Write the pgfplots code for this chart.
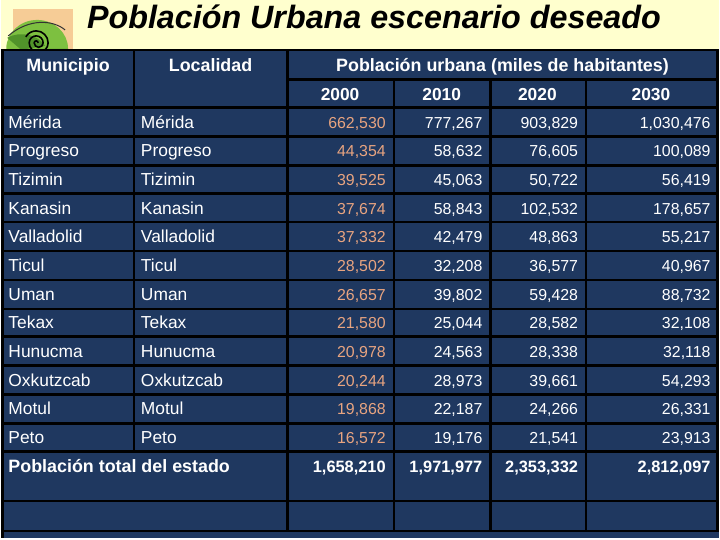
\documentclass[border=0pt]{standalone}
\usepackage{pgfplots}
\usepackage{pgfplotstable}
\pgfplotsset{compat=1.18}
\usepackage{fontspec}
\setmainfont{Liberation Sans}
\definecolor{navy}{RGB}{31,56,96}
\definecolor{salmon}{RGB}{232,164,128}
\definecolor{cream}{RGB}{255,255,206}
\definecolor{tanbg}{RGB}{246,204,150}
\definecolor{leaf}{RGB}{125,192,64}
\definecolor{leafdark}{RGB}{62,128,32}

\pgfplotstableread{
row name v2000 v2010 v2020 v2030
1 Mérida 662530 777267 903829 1030476
2 Progreso 44354 58632 76605 100089
3 Tizimin 39525 45063 50722 56419
4 Kanasin 37674 58843 102532 178657
5 Valladolid 37332 42479 48863 55217
6 Ticul 28502 32208 36577 40967
7 Uman 26657 39802 59428 88732
8 Tekax 21580 25044 28582 32108
9 Hunucma 20978 24563 28338 32118
10 Oxkutzcab 20244 28973 39661 54293
11 Motul 19868 22187 24266 26331
12 Peto 16572 19176 21541 23913
}\datos

\pgfplotstableread{
col xr total
1 386 1658210
2 483 1971977
3 579 2353332
4 712 2812097
}\totales

\newcommand{\datafont}{\fontsize{16}{18}\selectfont}
\newcommand{\namefont}{\fontsize{17.5}{20}\selectfont}
\newcommand{\headfont}{\fontsize{18}{21}\selectfont\bfseries}
\newcommand{\yearfont}{\fontsize{17.5}{20}\selectfont\bfseries}
\newcommand{\totfont}{\fontsize{16.5}{19}\selectfont\bfseries}

\pgfplotsset{
  cell/.style={only marks, mark=none, nodes near coords, point meta=explicit symbolic,
    every node near coord/.append style={inner sep=0pt, anchor=base west, text=white, font=\namefont}},
  numcell/.style={only marks, mark=none, nodes near coords={\pgfmathprintnumber{\pgfplotspointmeta}}, point meta=explicit symbolic,
    every node near coord/.append style={inner sep=0pt, anchor=base east, text=#1, font=\datafont}},
}

\begin{document}
\begin{tikzpicture}
\begin{axis}[
  width=720bp, height=540bp, scale only axis,
  xmin=0, xmax=720, ymin=0, ymax=540, y dir=reverse,
  hide axis, clip=false, at={(0,0)}, anchor=south west,
  /pgf/number format/.cd, fixed, precision=0, 1000 sep={,}, assume math mode=true,
]
% backgrounds
\fill[cream] (axis cs:0,0) rectangle (axis cs:720,50);
\fill[navy] (axis cs:0,50) rectangle (axis cs:720,540);
% logo
\fill[tanbg] (axis cs:12,9) rectangle (axis cs:72,50);
\begin{scope}
\clip (axis cs:0,0) rectangle (axis cs:720,49);
\fill[leaf] (axis cs:36,49) ellipse[x radius=31bp, y radius=29bp];
\fill[leafdark] (axis cs:36,49) -- (axis cs:67,49) arc[start angle=0, end angle=-110, x radius=31bp, y radius=29bp] -- cycle;
\fill[leafdark!70!leaf] (axis cs:6,38) .. controls (axis cs:20,30) and (axis cs:38,36) .. (axis cs:44,46) -- (axis cs:20,50) -- cycle;
\path (axis cs:35,43) coordinate (sc);
\draw[black, line width=1.6bp] ([xshift=2bp]sc) arc[start angle=0,end angle=180,radius=2bp]
  arc[start angle=180,end angle=360,radius=4.5bp]
  arc[start angle=0,end angle=180,radius=7bp]
  arc[start angle=180,end angle=360,radius=9.5bp]
  arc[start angle=0,end angle=150,radius=12bp];
\draw[black!80, line width=1bp] (axis cs:7,36) .. controls (axis cs:28,18) and (axis cs:52,20) .. (axis cs:64,30);
\end{scope}
% title
\node[inner sep=0pt, anchor=base, font=\fontsize{32.5}{38}\selectfont\bfseries\itshape, text=black] at (axis cs:374,29) {Población Urbana escenario deseado};
% headers
\node[inner sep=0pt, font=\headfont, text=white, anchor=base] at (axis cs:67,72) {Municipio};
\node[inner sep=0pt, font=\headfont, text=white, anchor=base] at (axis cs:210,72) {Localidad};
\node[inner sep=0pt, font=\headfont, text=white, anchor=base] at (axis cs:503,72) {Población urbana (miles de habitantes)};
\node[inner sep=0pt, font=\yearfont, text=white, anchor=base] at (axis cs:340,101) {2000};
\node[inner sep=0pt, font=\yearfont, text=white, anchor=base] at (axis cs:442,101) {2010};
\node[inner sep=0pt, font=\yearfont, text=white, anchor=base] at (axis cs:538,101) {2020};
\node[inner sep=0pt, font=\yearfont, text=white, anchor=base] at (axis cs:652,101) {2030};
% names
\addplot[cell] table[x expr=7, y expr=128.8+28.75*(\thisrow{row}-1), meta=name] {\datos};
\addplot[cell] table[x expr=140, y expr=128.8+28.75*(\thisrow{row}-1), meta=name] {\datos};
% values
\addplot[numcell=salmon] table[x expr=386, y expr=128.8+28.75*(\thisrow{row}-1), meta=v2000] {\datos};
\addplot[numcell=white] table[x expr=483, y expr=128.8+28.75*(\thisrow{row}-1), meta=v2010] {\datos};
\addplot[numcell=white] table[x expr=579, y expr=128.8+28.75*(\thisrow{row}-1), meta=v2020] {\datos};
\addplot[numcell=white] table[x expr=712, y expr=128.8+28.75*(\thisrow{row}-1), meta=v2030] {\datos};
% totals
\node[inner sep=0pt, font=\headfont, text=white, anchor=base west] at (axis cs:7,474.5) {Población total del estado};
\addplot[numcell=white, every node near coord/.append style={font=\totfont}] table[x=xr, y expr=474.5, meta=total] {\totales};
% grid
\draw[line width=2.6bp, black] (axis cs:0,50) -- (axis cs:720,50);
\draw[line width=2.6bp, black] (axis cs:287,80) -- (axis cs:720,80);
\pgfplotsinvokeforeach{108,137,166,194,223,252,281,310,338,367,396,425,453,503,533}{
  \draw[line width=2.6bp, black] (axis cs:0,#1) -- (axis cs:720,#1);
}
\draw[line width=2.6bp, black] (axis cs:1,50) -- (axis cs:1,540);
\draw[line width=2.6bp, black] (axis cs:718.5,50) -- (axis cs:718.5,533);
\draw[line width=2.6bp, black] (axis cs:133,50) -- (axis cs:133,453);
\draw[line width=2.6bp, black] (axis cs:287,50) -- (axis cs:287,533);
\pgfplotsinvokeforeach{394,491,587}{
  \draw[line width=2.6bp, black] (axis cs:#1,80) -- (axis cs:#1,533);
}
\end{axis}
\end{tikzpicture}
\end{document}
